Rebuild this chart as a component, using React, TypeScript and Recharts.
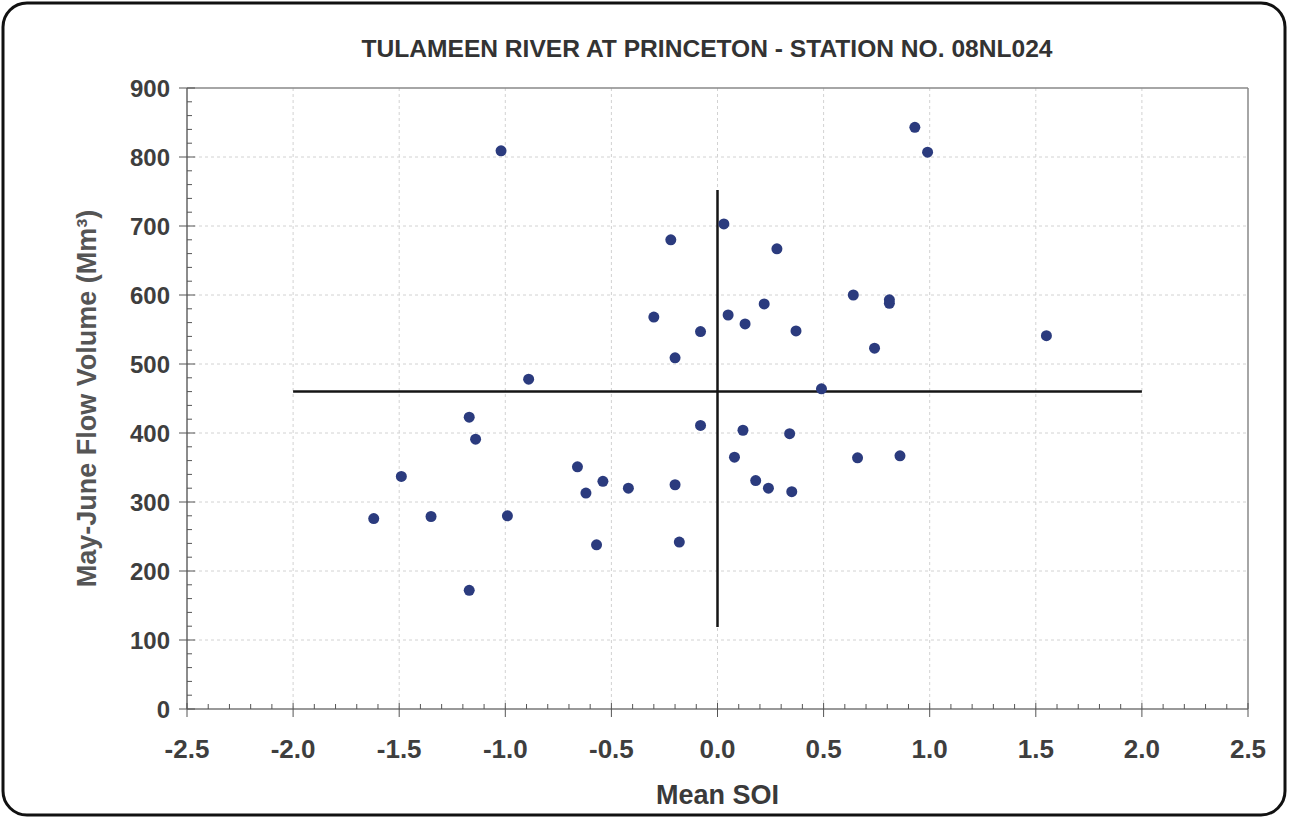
import React from 'react';
import { ScatterChart, Scatter, XAxis, YAxis, ReferenceLine, Label } from 'recharts';

// Mean SOI (x) vs May-June flow volume in Mm3 (y)
const soi = [
  -1.02, 0.93, 0.99, 0.03, -0.22, 0.28, -0.3, 0.05, 0.22, 0.13, -0.08, 0.37,
  0.64, 0.81, 0.81, 0.74, 1.55, -0.2, -0.89, 0.49, -1.17, -1.14, -0.08, 0.12,
  0.34, 0.08, 0.66, 0.86, 0.18, 0.24, 0.35, -0.66, -0.62, -0.54, -0.42, -0.2,
  -1.49, -1.35, -1.62, -0.99, -0.57, -0.18, -1.17,
];
const flow = [
  809, 843, 807, 703, 680, 667, 568, 571, 587, 558, 547, 548,
  600, 593, 588, 523, 541, 509, 478, 464, 423, 391, 411, 404,
  399, 365, 364, 367, 331, 320, 315, 351, 313, 330, 320, 325,
  337, 279, 276, 280, 238, 242, 172,
];

const xMajor = [-2.5, -2.0, -1.5, -1.0, -0.5, 0.0, 0.5, 1.0, 1.5, 2.0, 2.5];
const yMajor = [0, 100, 200, 300, 400, 500, 600, 700, 800, 900];

// threshold lines drawn across the chart
const meanFlow = 460;
const hLineSoi = [-2.0, 2.0];
const vLineFlow = [119, 752];

const points = soi.map((s, i) => ({ soi: s, flow: flow[i] }));

const xTicks: number[] = [];
for (let i = -25; i <= 25; i++) xTicks.push(i / 10);
const yTicks: number[] = [];
for (let v = 0; v <= 900; v += 20) yTicks.push(v);

const textColor = '#3e3e3e';
const font = '"Liberation Sans", Arial, sans-serif';

const XTick = (props: any) => {
  const { x, y, payload } = props;
  const v = payload.value as number;
  const major = Math.abs(v * 2 - Math.round(v * 2)) < 1e-6;
  return (
    <g>
      <line x1={x} x2={x} y1={major ? y - 6 : y - 5} y2={major ? y + 8 : y} stroke="#555" strokeWidth={1} />
      {major && (
        <text x={x} y={y + 49} textAnchor="middle" fontFamily={font} fontWeight="bold" fontSize={26} fill={textColor}>
          {v.toFixed(1)}
        </text>
      )}
    </g>
  );
};

const YTick = (props: any) => {
  const { x, y, payload } = props;
  const v = payload.value as number;
  const major = v % 100 === 0;
  return (
    <g>
      <line x1={major ? x - 8 : x} x2={major ? x + 8 : x + 5} y1={y} y2={y} stroke="#555" strokeWidth={1} />
      {major && (
        <text x={x - 17} y={y + 9} textAnchor="end" fontFamily={font} fontWeight="bold" fontSize={24} fill={textColor}>
          {v}
        </text>
      )}
    </g>
  );
};

const Dot = (props: any) => <circle cx={props.cx} cy={props.cy} r={5.5} fill="#2b3b7e" />;

export default function App() {
  return (
    <div style={{ position: 'absolute', left: 0, top: 0, width: 1289, height: 819, background: '#fff' }}>
      <ScatterChart width={1289} height={819} margin={{ top: 88, right: 41, bottom: 0, left: 0 }}>
        <XAxis
          type="number"
          dataKey="soi"
          domain={[-2.5, 2.5]}
          ticks={xTicks}
          interval={0}
          height={110}
          tickSize={0}
          tickMargin={0}
          tick={<XTick />}
          axisLine={{ stroke: '#777', strokeWidth: 1.5 }}
          tickLine={false}
        >
          <Label
            content={(p: any) => {
              const vb = p.viewBox;
              return (
                <text x={vb.x + vb.width / 2} y={vb.y + 95} textAnchor="middle" fontFamily={font} fontWeight="bold" fontSize={27} fill="#3a3a3a">
                  Mean SOI
                </text>
              );
            }}
          />
        </XAxis>
        <YAxis
          type="number"
          dataKey="flow"
          domain={[0, 900]}
          ticks={yTicks}
          interval={0}
          width={187}
          tickSize={0}
          tickMargin={0}
          tick={<YTick />}
          axisLine={{ stroke: '#666', strokeWidth: 1.5 }}
          tickLine={false}
        >
          <Label
            content={(p: any) => {
              const vb = p.viewBox;
              const cy = vb.y + vb.height / 2;
              return (
                <text x={96} y={cy} transform={`rotate(-90, 96, ${cy})`} textAnchor="middle" fontFamily={font} fontWeight="bold" fontSize={27} fill="#555">
                  May-June Flow Volume (Mm³)
                </text>
              );
            }}
          />
        </YAxis>
        {xMajor.slice(1, -1).map((v) => (
          <ReferenceLine key={'gx' + v} x={v} stroke="#d2d2d2" strokeDasharray="3 3" />
        ))}
        {yMajor.slice(1, -1).map((v) => (
          <ReferenceLine key={'gy' + v} y={v} stroke="#d2d2d2" strokeDasharray="3 3" />
        ))}
        <ReferenceLine y={900} stroke="#888" strokeWidth={1.5} />
        <ReferenceLine x={2.5} stroke="#888" strokeWidth={1.5} />
        <ReferenceLine
          segment={[{ x: hLineSoi[0], y: meanFlow }, { x: hLineSoi[1], y: meanFlow }]}
          stroke="#151515"
          strokeWidth={2.5}
        />
        <ReferenceLine
          segment={[{ x: 0, y: vLineFlow[0] }, { x: 0, y: vLineFlow[1] }]}
          stroke="#151515"
          strokeWidth={2.5}
        />
        <Scatter data={points} shape={<Dot />} isAnimationActive={false} />
      </ScatterChart>
      <svg width={1289} height={819} style={{ position: 'absolute', left: 0, top: 0, pointerEvents: 'none' }}>
        <rect x={3} y={3} width={1282} height={812} rx={24} fill="none" stroke="#111" strokeWidth={3} />
        <text x={707} y={57} textAnchor="middle" fontFamily={font} fontWeight="bold" fontSize={24} fill="#333" textLength={691} lengthAdjust="spacingAndGlyphs">
          TULAMEEN RIVER AT PRINCETON - STATION NO. 08NL024
        </text>
      </svg>
    </div>
  );
}
